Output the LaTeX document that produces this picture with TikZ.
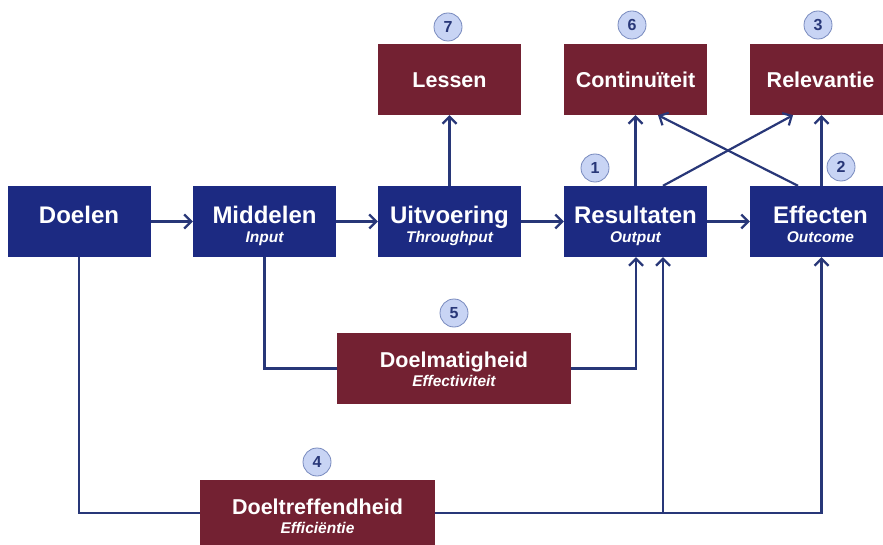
\documentclass[tikz,border=0pt]{standalone}
\usepackage{fontspec}
\setmainfont{Liberation Sans}
\usetikzlibrary{arrows.meta}
\definecolor{bbl}{RGB}{28,42,130}
\definecolor{rrd}{RGB}{115,33,50}
\definecolor{lnc}{RGB}{40,55,120}
\definecolor{cfill}{RGB}{200,212,244}
\definecolor{cdraw}{RGB}{120,138,190}
\tikzset{
  bluebox/.style={fill=bbl, minimum width=143pt, minimum height=71pt, inner sep=0pt},
  redbox/.style={fill=rrd, minimum width=143pt, minimum height=71pt, inner sep=0pt},
  ttlb/.style={text=white, anchor=base, inner sep=0pt, font=\fontsize{24}{24}\selectfont\bfseries},
  ttlr/.style={text=white, anchor=base, inner sep=0pt, font=\fontsize{21.5}{22}\selectfont\bfseries},
  subt/.style={text=white, anchor=base, inner sep=0pt, font=\fontsize{15.5}{16}\selectfont\bfseries\itshape},
  conn/.style={draw=lnc, line width=2.2pt},
  arr/.style={conn, -{Straight Barb[length=7pt,width=14pt,line width=2.2pt]}},
  num/.style={circle, fill=cfill, draw=cdraw, line width=0.8pt, minimum size=28pt, inner sep=0pt, text=lnc, font=\fontsize{16}{16}\selectfont\bfseries}
}
\begin{document}
\begin{tikzpicture}[x=1pt,y=-1pt]
\useasboundingbox (0,0) rectangle (883,545);
\fill[white] (0,0) rectangle (883,545);
% blue boxes
\node[bluebox] (doel) at (79,221.5) {};
\node[bluebox] (mid) at (264.5,221.5) {};
\node[bluebox] (uit) at (449.5,221.5) {};
\node[bluebox] (res) at (635.5,221.5) {};
\node[bluebox] (eff) at (821.5,221.5) {};
\node[ttlb] (doelt) at (79,223.5) {Doelen};
\node[ttlb] (midt) at (264.5,223.5) {Middelen};
\node[subt] (mids) at (264.5,242.5) {Input};
\node[ttlb] (uitt) at (449.5,223.5) {Uitvoering};
\node[subt] (uits) at (449.5,242.5) {Throughput};
\node[ttlb] (rest) at (635.5,223.5) {Resultaten};
\node[subt] (ress) at (635.5,242.5) {Output};
\node[ttlb] (efft) at (820.5,223.5) {Effecten};
\node[subt] (effs) at (820.5,242.5) {Outcome};
% red top boxes
\node[redbox] (les) at (449.5,79.5) {};
\node[redbox] (con) at (635.5,79.5) {};
\node[redbox] (rel) at (821.5,79.5) {};
\node[ttlr] (lest) at (449.5,87.5) {Lessen};
\node[ttlr] (cont) at (635.5,87.5) {Continuïteit};
\node[ttlr] (relt) at (820.5,87.5) {Relevantie};
% red bottom boxes
\node[redbox, minimum width=234pt] (dm) at (454,368.5) {};
\node[ttlr] (dmt) at (454,367.8) {Doelmatigheid};
\node[subt] (dms) at (454,386.6) {Effectiviteit};
\node[redbox, minimum width=235pt] (dt) at (317.5,515) {};
\node[ttlr] (dtt) at (317.5,514.8) {Doeltreffendheid};
\node[subt] (dts) at (317.5,533.6) {Efficiëntie};
% numbers
\node[num] (n7) at (448,27) {7};
\node[num] (n6) at (632,25) {6};
\node[num] (n3) at (818,25) {3};
\node[num] (n1) at (595,168) {1};
\node[num] (n2) at (841,167) {2};
\node[num] (n5) at (454,313) {5};
\node[num] (n4) at (317,462) {4};
% horizontal chain
\draw[arr] (doel.east) -- (mid.west);
\draw[arr] (mid.east) -- (uit.west);
\draw[arr] (uit.east) -- (res.west);
\draw[arr] (res.east) -- (eff.west);
% upward
\draw[arr] (uit.north) -- (les.south);
\draw[arr] (res.north) -- (con.south);
\draw[arr] (eff.north) -- (rel.south);
\draw[arr] ([xshift=27.5pt]res.north) -- ([xshift=-28.5pt]rel.south);
\draw[arr] ([xshift=-23.5pt]eff.north) -- ([xshift=22.5pt]con.south);
% doelmatigheid
\draw[conn] (mid.south) |- (dm.west);
\draw[arr] (dm.east) -| ([xshift=0.5pt]res.south);
% doeltreffendheid
\coordinate (dtl) at (dt.west |- 0,513);
\coordinate (dtr) at (dt.east |- 0,513);
\draw[conn] (doel.south) |- (dtl);
\draw[arr] (dtr) -| ([xshift=27.5pt]res.south);
\draw[arr] (dtr) -| (eff.south);
\end{tikzpicture}
\end{document}
